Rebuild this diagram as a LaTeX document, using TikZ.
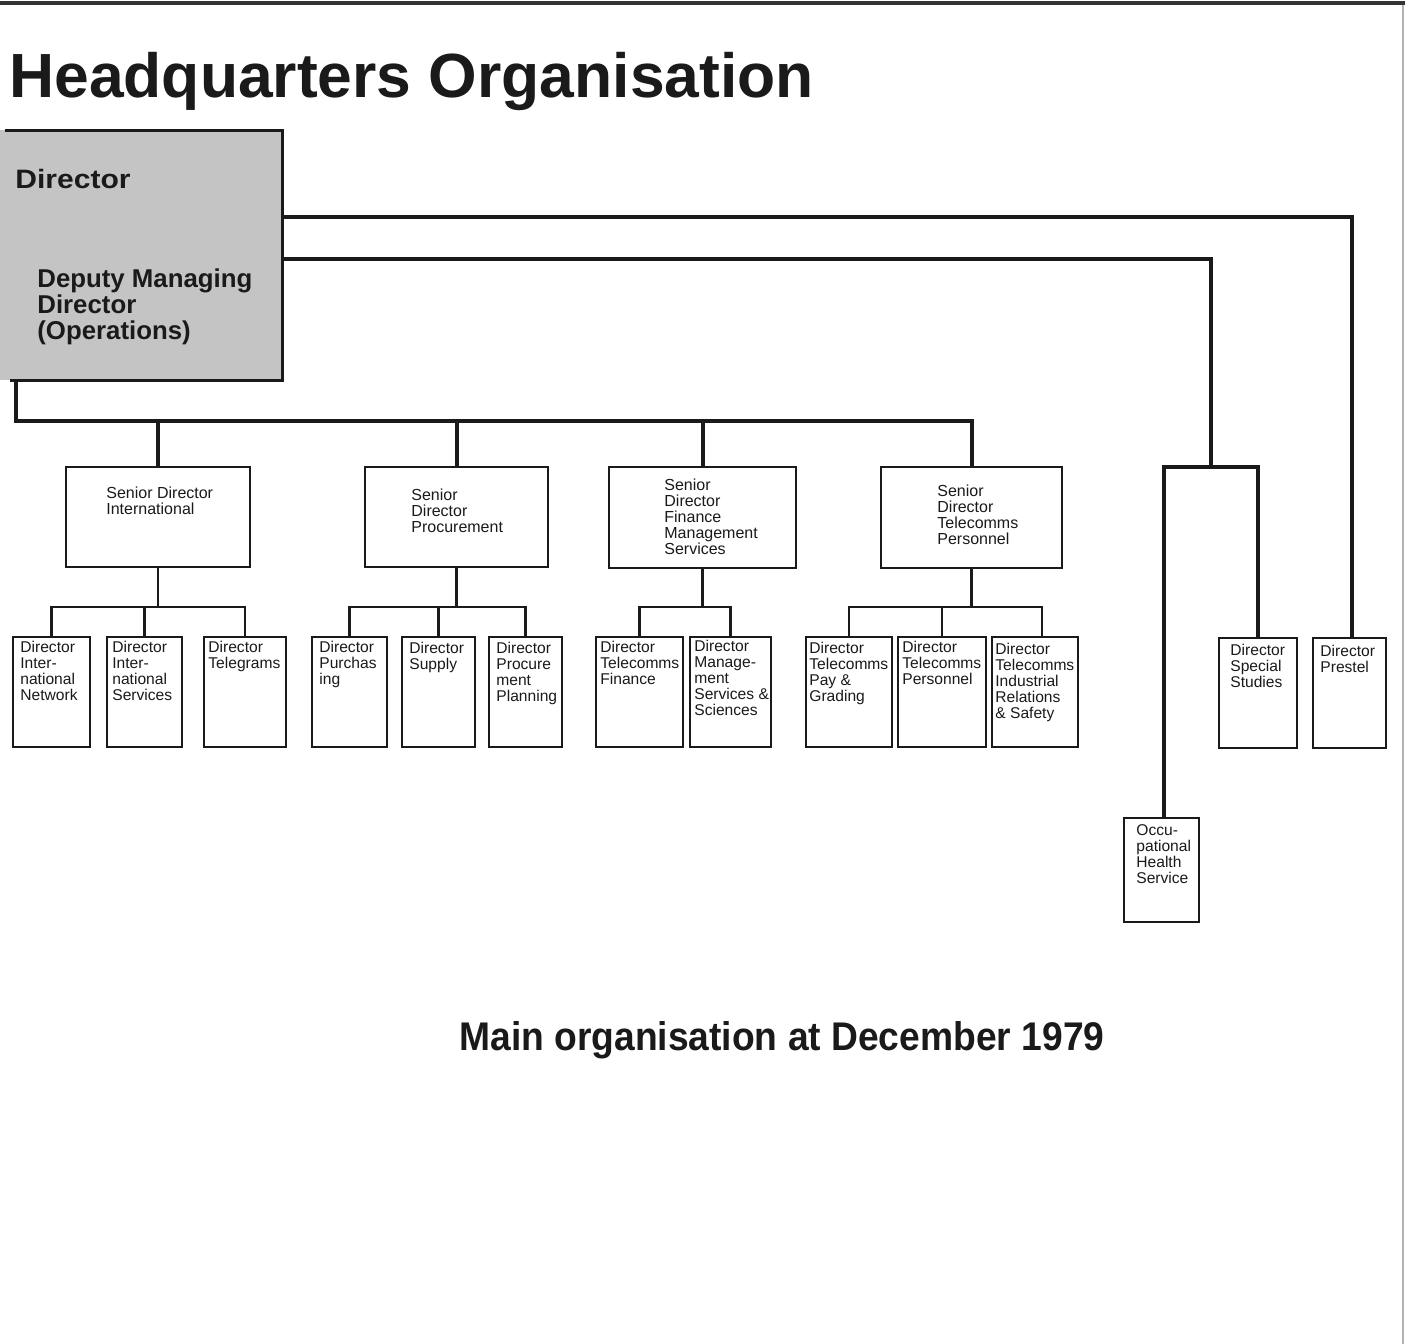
\documentclass[tikz,border=0pt]{standalone}
\usepackage{fontspec}
\setmainfont{Liberation Sans}
\usetikzlibrary{fit}
\definecolor{ink}{HTML}{1A1A1A}
\definecolor{hqgray}{HTML}{C4C4C4}
\begin{document}
\begin{tikzpicture}[x=0.5pt,y=-0.5pt,
  sbox/.style={draw=ink, line width=1.4pt, inner sep=0pt, outer sep=0pt},
  dbox/.style={draw=ink, line width=1pt, inner sep=0pt, outer sep=0pt},
  stxt/.style={anchor=north west, inner sep=0pt, align=left, text=ink, font=\fontsize{8}{8}\selectfont},
  dtxt/.style={anchor=north west, inner sep=0pt, align=left, text=ink, font=\fontsize{7.8}{8}\selectfont},
  mline/.style={draw=ink, line width=2pt},
  sline/.style={draw=ink, line width=1.2pt}]
\useasboundingbox (0,0) rectangle (1405,1344);
\fill[white] (0,0) rectangle (1405,1344);
% page frame
\draw[line width=2pt, draw=black!80] (0,3) -- (1405,3);
\draw[line width=0.6pt, draw=black!30] (1403,5) -- (1403,1344);
% title
\node[anchor=north west, inner sep=0pt, text=ink, font=\fontsize{31.2}{32}\selectfont\bfseries] (title) at (9,52) {Headquarters Organisation};
% HQ box
\fill[hqgray] (0,130) rectangle (282,380);
\draw[line width=1.5pt, draw=ink] (5,130) -- (282,130) -- (282,380) -- (10,380);
\node[fit={(0,130) (282,380)}, inner sep=0pt, outer sep=0pt] (hq) {};
\node[anchor=north west, inner sep=0pt, text=ink, font=\fontsize{13.3}{13.3}\selectfont\bfseries] (hqdir) at (15,169) {\scalebox{1.13}[1]{Director}};
\node[anchor=north west, inner sep=0pt, align=left, text=ink, font=\fontsize{12.9}{13}\selectfont\bfseries] (hqdmd) at (37,268) {Deputy Managing\\Director\\(Operations)};
% senior boxes
\node[sbox, fit={(66,467) (250,567)}] (sdi) {};
\node[sbox, fit={(365,467) (548,567)}] (sdp) {};
\node[sbox, fit={(609,467) (796,568)}] (sdf) {};
\node[sbox, fit={(881,467) (1062,568)}] (sdt) {};
\node[stxt] (sdit) at (106,487) {Senior Director\\International};
\node[stxt] (sdpt) at (411,488) {Senior\\Director\\Procurement};
\node[stxt] (sdft) at (664,478) {Senior\\Director\\Finance\\Management\\Services};
\node[stxt] (sdtt) at (937,485) {Senior\\Director\\Telecomms\\Personnel};
% director boxes
\node[dbox, fit={(13,637) (90,747)}] (dA) {};
\node[dbox, fit={(107,637) (182,747)}] (dB) {};
\node[dbox, fit={(204,637) (286,747)}] (dC) {};
\node[dbox, fit={(312,637) (387,747)}] (dD) {};
\node[dbox, fit={(402,637) (475,747)}] (dE) {};
\node[dbox, fit={(489,637) (562,747)}] (dF) {};
\node[dbox, fit={(596,637) (683,747)}] (dG) {};
\node[dbox, fit={(690,637) (771,747)}] (dH) {};
\node[dbox, fit={(806,637) (892,747)}] (dI) {};
\node[dbox, fit={(898,637) (986,747)}] (dJ) {};
\node[dbox, fit={(992,637) (1078,747)}] (dK) {};
\node[dbox, fit={(1219,638) (1297,748)}] (ss) {};
\node[dbox, fit={(1313,638) (1386,748)}] (pr) {};
\node[dbox, fit={(1124,818) (1199,922)}] (oc) {};
\node[dtxt] (dAt) at (20,641) {Director\\Inter-\\national\\Network};
\node[dtxt] (dBt) at (112,641) {Director\\Inter-\\national\\Services};
\node[dtxt] (dCt) at (208,641) {Director\\Telegrams};
\node[dtxt] (dDt) at (319,641) {Director\\Purchas\\ing};
\node[dtxt] (dEt) at (409,642) {Director\\Supply};
\node[dtxt] (dFt) at (496,642) {Director\\Procure\\ment\\Planning};
\node[dtxt] (dGt) at (600,641) {Director\\Telecomms\\Finance};
\node[dtxt] (dHt) at (694,640) {Director\\Manage-\\ment\\Services \&\\Sciences};
\node[dtxt] (dIt) at (809,642) {Director\\Telecomms\\Pay \&\\Grading};
\node[dtxt] (dJt) at (902,641) {Director\\Telecomms\\Personnel};
\node[dtxt] (dKt) at (995,643) {Director\\Telecomms\\Industrial\\Relations\\\& Safety};
\node[dtxt] (sst) at (1230,644) {Director\\Special\\Studies};
\node[dtxt] (prt) at (1320,645) {Director\\Prestel};
\node[dtxt] (oct) at (1136,824) {Occu-\\pational\\Health\\Service};
% main connectors
\coordinate (bus) at (16,421);
\draw[mline] (hq.south -| bus) -- (bus) -| (sdt.north);
\foreach \n in {sdi,sdp,sdf} \draw[mline] (\n.north |- bus) -- (\n.north);
\draw[mline] (hq.east |- 0,217) -| ([xshift=1pt]pr.north);
\coordinate (fork) at (1211,467);
\draw[mline] (hq.east |- 0,259) -| (fork);
\draw[mline] ([xshift=1pt]oc.north) |- (fork) -| (ss.north);
% sub connectors
\draw[sline] (sdi.south) -- (sdi.south |- 0,607);
\draw[sline] (dA.north) |- (dC.north |- 0,607) -- (dC.north);
\draw[sline] (dB.north) -- (dB.north |- 0,607);
\draw[sline] (sdp.south) -- (sdp.south |- 0,607);
\draw[sline] (dD.north) |- (dF.north |- 0,607) -- (dF.north);
\draw[sline] (dE.north) -- (dE.north |- 0,607);
\draw[sline] (sdf.south) -- (sdf.south |- 0,607);
\draw[sline] (dG.north) |- (dH.north |- 0,607) -- (dH.north);
\draw[sline] (sdt.south) -- (sdt.south |- 0,607);
\draw[sline] (dI.north) |- ([xshift=3.5pt]dK.north |- 0,607) -- ([xshift=3.5pt]dK.north);
\draw[sline] (dJ.north) -- (dJ.north |- 0,607);
% caption
\node[anchor=north west, inner sep=0pt, text=ink, font=\fontsize{20}{20}\selectfont\bfseries] (caption) at (459,1021) {\scalebox{0.93}[1]{Main organisation at December 1979}};
\end{tikzpicture}
\end{document}
